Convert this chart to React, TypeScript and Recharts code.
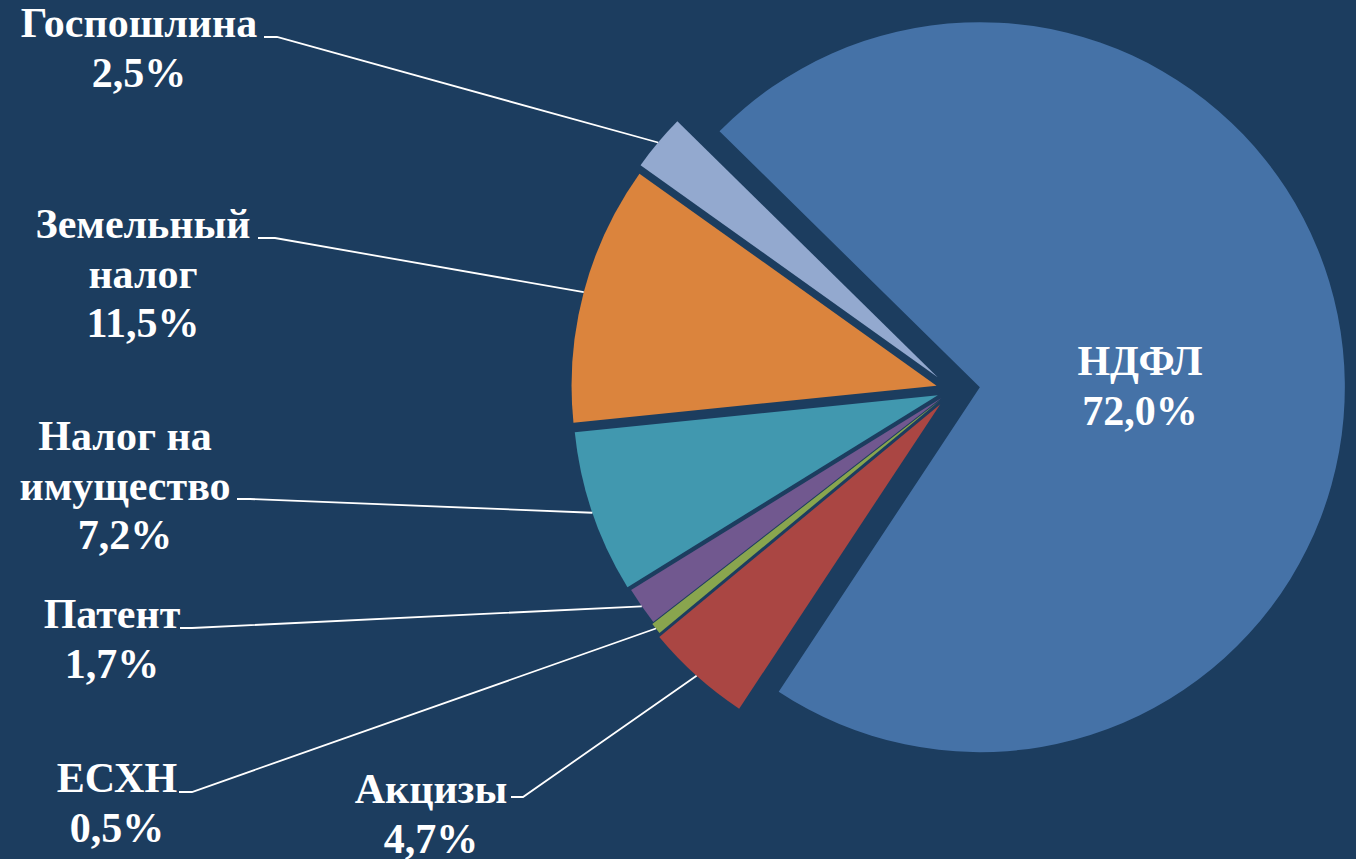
import { PieChart, Pie, Cell } from "recharts";

const categories = [
  "НДФЛ",
  "Акцизы",
  "ЕСХН",
  "Патент",
  "Налог на\nимущество",
  "Земельный\nналог",
  "Госпошлина",
];
const shares = [72.0, 4.7, 0.5, 1.7, 7.2, 11.5, 2.5];
const colors = ["#4572A7", "#AA4643", "#89A54E", "#71588F", "#4198AF", "#DB843D", "#93A9CF"];

// how far each slice is pulled away from the centre
const explode = [27, 19, 16, 14, 16, 17, 20];

// label text centre + first baseline, and leader start [x, y, elbow x]
const labelSpots: { x: number; y: number; line: number[] | null }[] = [
  { x: 1140, y: 375, line: null },
  { x: 431, y: 803, line: [511, 797, 523] },
  { x: 117, y: 792, line: [179, 792, 192] },
  { x: 112, y: 628, line: [180, 628, 192] },
  { x: 125, y: 450, line: [237, 499, 250] },
  { x: 143, y: 238, line: [258, 238, 275] },
  { x: 139, y: 37, line: [264, 37, 277] },
];

const data = categories.map((name, i) => ({ name, value: shares[i] }));
const total = shares.reduce((a, b) => a + b, 0);

const W = 1356;
const H = 859;
const CX = 953;
const CY = 390;
const R = 365;
const START = 135.5;
const RAD = Math.PI / 180;
const LINE_H = 49.5;

function midAngleOf(i: number) {
  const before = shares.slice(0, i).reduce((a, b) => a + b, 0);
  return START - ((before + shares[i] / 2) / total) * 360;
}

const fmt = (v: number) => v.toFixed(1).replace(".", ",") + "%";

const makeLabel = (slice: number) => (props: any) => {
  if (props.index !== slice) return null;
  const spot = labelSpots[slice];
  const lines = [...categories[slice].split("\n"), fmt(shares[slice])];
  let leader = null;
  if (spot.line) {
    const ex = props.cx + props.outerRadius * Math.cos(-props.midAngle * RAD);
    const ey = props.cy + props.outerRadius * Math.sin(-props.midAngle * RAD);
    const [lx, ly, kx] = spot.line;
    leader = (
      <polyline
        points={`${lx},${ly} ${kx},${ly} ${ex},${ey}`}
        fill="none"
        stroke="#ffffff"
        strokeWidth={1.8}
      />
    );
  }
  return (
    <g>
      {leader}
      <text
        textAnchor="middle"
        fill="#ffffff"
        fontFamily="'Liberation Serif', serif"
        fontWeight="bold"
        fontSize={42}
      >
        {lines.map((t, k) => (
          <tspan key={k} x={spot.x} y={spot.y + k * LINE_H}>
            {t}
          </tspan>
        ))}
      </text>
    </g>
  );
};

export default function App() {
  return (
    <div style={{ width: W, height: H, background: "#1C3D5F", position: "absolute", left: 0, top: 0 }}>
      <style>{`body{margin:0}`}</style>
      <PieChart width={W} height={H} margin={{ top: 0, right: 0, bottom: 0, left: 0 }}>
        {/* one pie per slice so every slice can be pulled out along its own angle */}
        {data.map((_, i) => {
          const mid = midAngleOf(i);
          return (
            <Pie
              key={i}
              data={data}
              dataKey="value"
              nameKey="name"
              cx={CX + explode[i] * Math.cos(-mid * RAD)}
              cy={CY + explode[i] * Math.sin(-mid * RAD)}
              outerRadius={R}
              startAngle={START}
              endAngle={START - 360}
              stroke="none"
              label={makeLabel(i)}
              labelLine={false}
              isAnimationActive={false}
            >
              {data.map((__, j) => (
                <Cell key={j} fill={j === i ? colors[j] : "none"} stroke="none" />
              ))}
            </Pie>
          );
        })}
      </PieChart>
    </div>
  );
}
